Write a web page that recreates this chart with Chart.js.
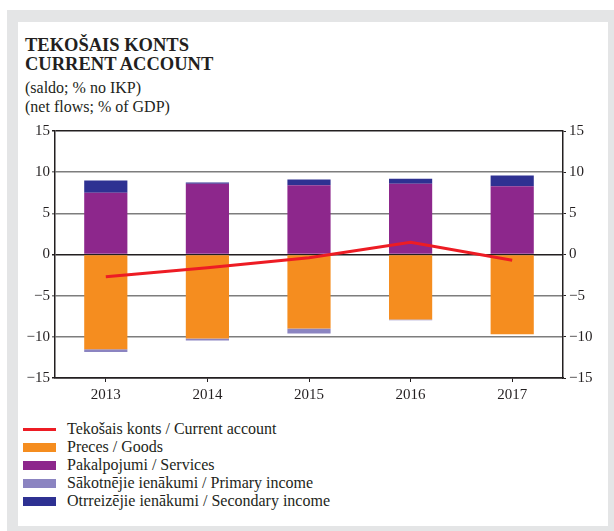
<!DOCTYPE html>
<html>
<head>
<meta charset="utf-8">
<script src="https://cdn.jsdelivr.net/npm/chart.js@4/dist/chart.umd.min.js"></script>
<style>
  html, body { margin: 0; padding: 0; background: #ffffff; }
  body { width: 614px; height: 531px; position: relative; overflow: hidden; font-family: 'Liberation Serif', 'Times New Roman', serif; color: #231f20; }
  #frame { position: absolute; left: 7px; top: 10px; width: 607px; height: 521px; background: #e4e5e6; }
  #panel { position: absolute; left: 18px; top: 22px; width: 590px; height: 504px; background: #ffffff; }
  #title { position: absolute; left: 25px; top: 36px; font-weight: bold; font-size: 18.5px; line-height: 18.5px; }
  #sub { position: absolute; left: 25px; top: 79px; font-size: 16px; line-height: 18.5px; }
  #wrap { position: absolute; left: 0; top: 115px; width: 614px; height: 293px; }
  #legend { position: absolute; left: 23px; top: 420px; font-size: 16px; line-height: 18px; }
  .item { height: 18px; display: flex; align-items: center; }
  .sw { width: 33px; height: 9px; margin-right: 11px; }
  .ln { width: 33px; height: 3px; margin: 3px 11px 3px 0; }
</style>
</head>
<body>
<div id="frame"></div>
<div id="panel"></div>
<div id="title">TEKOŠAIS KONTS<br>CURRENT ACCOUNT</div>
<div id="sub">(saldo; % no IKP)<br>(net flows; % of GDP)</div>
<div id="wrap"><canvas id="chart"></canvas></div>
<div id="legend"></div>
<script>
// chart data (% of GDP)
const years = ['2013', '2014', '2015', '2016', '2017'];
const currentAccount = [-2.7, -1.6, -0.4, 1.5, -0.7];
const goods = [-11.5, -10.2, -9.0, -7.9, -9.7];
const services = [7.5, 8.6, 8.4, 8.6, 8.3];
const primaryIncome = [-0.35, -0.25, -0.6, -0.1, 0];
const secondaryIncome = [1.5, 0.15, 0.7, 0.6, 1.3];

const seriesNames = [
  'Tekošais konts / Current account',
  'Preces / Goods',
  'Pakalpojumi / Services',
  'Sākotnējie ienākumi / Primary income',
  'Otrreizējie ienākumi / Secondary income'
];
const colors = ['#ed1c24', '#f58d1f', '#8d278c', '#8b84c1', '#2e3192'];

document.addEventListener('DOMContentLoaded', function () {
  const canvas = document.getElementById('chart');
  const tickFont = { family: "'Liberation Serif', serif", size: 15 };

  const gridColor = function (ctx) {
    const v = ctx.tick ? ctx.tick.value : 0;
    if (v === 0 || v === 15 || v === -15) return '#231f20';
    return '#7d7d7d';
  };

  function fmt(v) {
    return v < 0 ? '\u2212' + Math.abs(v) : String(v);
  }

  new Chart(canvas.getContext('2d'), {
    type: 'bar',
    data: {
      labels: years,
      datasets: [
        {
          type: 'line',
          label: seriesNames[0],
          data: currentAccount,
          borderColor: colors[0],
          borderWidth: 3,
          pointRadius: 0,
          tension: 0,
          stack: 'line'
        },
        { label: seriesNames[1], data: goods, backgroundColor: colors[1], stack: 'bars' },
        { label: seriesNames[2], data: services, backgroundColor: colors[2], stack: 'bars' },
        { label: seriesNames[3], data: primaryIncome, backgroundColor: colors[3], stack: 'bars' },
        { label: seriesNames[4], data: secondaryIncome, backgroundColor: colors[4], stack: 'bars' }
      ]
    },
    options: {
      responsive: true,
      maintainAspectRatio: false,
      animation: false,
      datasets: { bar: { barPercentage: 0.5, categoryPercentage: 0.85 } },
      layout: { padding: { top: 16, left: 0, right: 0, bottom: 0 } },
      plugins: { legend: { display: false }, tooltip: { enabled: false } },
      scales: {
        x: {
          stacked: true,
          grid: { offset: false, drawOnChartArea: false, drawTicks: true, tickLength: 4, color: '#231f20' },
          border: { color: '#231f20', width: 1.5 },
          ticks: { color: '#231f20', font: tickFont, padding: 4 },
          afterFit: function (s) { s.height = 30; }
        },
        y: {
          stacked: true,
          position: 'left',
          min: -15,
          max: 15,
          grid: { color: gridColor, lineWidth: 1.5, tickLength: 3 },
          border: { color: '#231f20', width: 1.5 },
          ticks: { stepSize: 5, color: '#231f20', font: tickFont, padding: 2, callback: fmt },
          afterFit: function (s) { s.width = 55; }
        },
        y2: {
          position: 'right',
          min: -15,
          max: 15,
          grid: { drawOnChartArea: false, color: '#231f20', tickLength: 3 },
          border: { color: '#231f20', width: 1.5 },
          ticks: { stepSize: 5, color: '#231f20', font: tickFont, padding: 3, callback: fmt },
          afterFit: function (s) { s.width = 51; }
        }
      }
    }
  });

  // legend below the chart
  const legend = document.getElementById('legend');
  seriesNames.forEach(function (name, i) {
    const row = document.createElement('div');
    row.className = 'item';
    const sw = document.createElement('span');
    sw.className = i === 0 ? 'ln' : 'sw';
    sw.style.background = colors[i];
    const txt = document.createElement('span');
    txt.textContent = name;
    row.appendChild(sw);
    row.appendChild(txt);
    legend.appendChild(row);
  });
});
</script>
</body>
</html>
